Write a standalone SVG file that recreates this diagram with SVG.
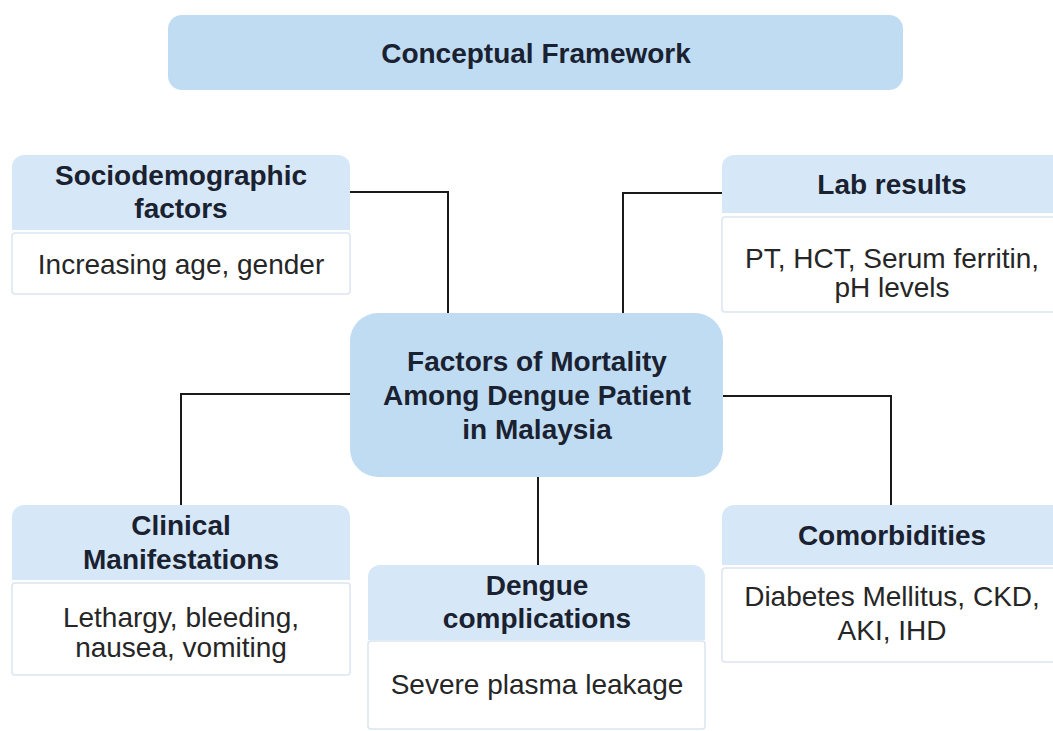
<svg xmlns="http://www.w3.org/2000/svg" width="1053" height="731" viewBox="0 0 1053 731">
<defs>
<style>
.bg{fill:#ffffff}
.main{fill:#bfdcf3}
.hdr{fill:#d6e8f7}
.body{fill:#ffffff;stroke:#dbe5ee;stroke-width:1.5}
.b{font-family:"Liberation Sans",Arial,sans-serif;font-weight:bold;font-size:28px;fill:#1a2130;text-anchor:middle}
.r{font-family:"Liberation Sans",Arial,sans-serif;font-size:28px;fill:#262626;text-anchor:middle}
.c{fill:none;stroke:#1a1a1a;stroke-width:2}
</style>
</defs>
<rect class="bg" x="0" y="0" width="1053" height="731"/>
<g id="connectors">
<path class="c" d="M350,192 H448 V313"/>
<path class="c" d="M623,313 V193 H722"/>
<path class="c" d="M350,394 H181 V505"/>
<path class="c" d="M723,396 H891 V505"/>
<path class="c" d="M538,477 V565"/>
</g>
<g id="title">
<rect class="main" x="168" y="15" width="735" height="75" rx="14"/>
<text class="b" x="536" y="63" font-size="27.5">Conceptual Framework</text>
</g>
<g id="center">
<rect class="main" x="350" y="313" width="373" height="164" rx="28"/>
<text class="b" x="537" y="371">Factors of Mortality</text>
<text class="b" x="537" y="405">Among Dengue Patient</text>
<text class="b" x="537" y="439">in Malaysia</text>
</g>
<g id="sociodemographic">
<path class="hdr" d="M12,167 a12,12 0 0 1 12,-12 H338 a12,12 0 0 1 12,12 V230 H12 Z"/>
<rect class="body" x="12" y="233" width="338" height="61" rx="3"/>
<text class="b" x="181" y="185">Sociodemographic</text>
<text class="b" x="181" y="218">factors</text>
<text class="r" x="181" y="274">Increasing age, gender</text>
</g>
<g id="lab">
<path class="hdr" d="M722,167 a12,12 0 0 1 12,-12 H1062 V213 H722 Z"/>
<rect class="body" x="722" y="217" width="345" height="95" rx="3"/>
<text class="b" x="892" y="194">Lab results</text>
<text class="r" x="892" y="268">PT, HCT, Serum ferritin,</text>
<text class="r" x="892" y="297">pH levels</text>
</g>
<g id="clinical">
<path class="hdr" d="M12,517 a12,12 0 0 1 12,-12 H338 a12,12 0 0 1 12,12 V580 H12 Z"/>
<rect class="body" x="12" y="583" width="338" height="92" rx="3"/>
<text class="b" x="181" y="535">Clinical</text>
<text class="b" x="181" y="569">Manifestations</text>
<text class="r" x="181" y="627">Lethargy, bleeding,</text>
<text class="r" x="181" y="657">nausea, vomiting</text>
</g>
<g id="dengue">
<path class="hdr" d="M368,577 a12,12 0 0 1 12,-12 H693 a12,12 0 0 1 12,12 V640 H368 Z"/>
<rect class="body" x="368" y="641" width="337" height="88" rx="3"/>
<text class="b" x="537" y="595">Dengue</text>
<text class="b" x="537" y="628">complications</text>
<text class="r" x="537" y="694">Severe plasma leakage</text>
</g>
<g id="comorbidities">
<path class="hdr" d="M722,517 a12,12 0 0 1 12,-12 H1062 V565 H722 Z"/>
<rect class="body" x="722" y="568" width="345" height="94" rx="3"/>
<text class="b" x="892" y="545">Comorbidities</text>
<text class="r" x="892" y="606">Diabetes Mellitus, CKD,</text>
<text class="r" x="892" y="640">AKI, IHD</text>
</g>
</svg>
